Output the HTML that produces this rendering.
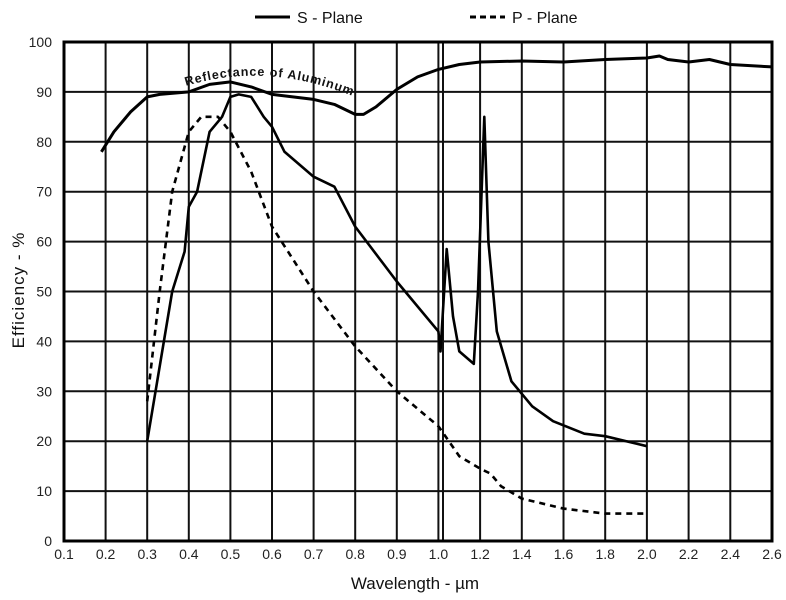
<!DOCTYPE html>
<html><head><style>
body{margin:0;background:#fff;}
svg{display:block;font-family:"Liberation Sans",sans-serif;}
</style></head><body>
<svg id="s" width="786" height="600" xmlns="http://www.w3.org/2000/svg">
<g id="grid" stroke="#111" stroke-width="2" fill="none"></g>
<rect x="64" y="42" width="708" height="499" fill="none" stroke="#000" stroke-width="3"/>
<g id="lab" font-size="14" fill="#222"></g>
<path id="arc" d="M186,86 Q270,60 362,100" fill="none" stroke="none"/>
<text font-size="12.5" font-weight="bold" fill="#111" letter-spacing="0.9"><textPath href="#arc">Reflectance  of  Aluminum</textPath></text>
<g id="curves" fill="none" stroke="#000" stroke-width="2.6" stroke-linejoin="round"></g>
<line x1="255" y1="17" x2="290" y2="17" stroke="#000" stroke-width="3"/>
<text x="297" y="23" font-size="16" fill="#111">S - Plane</text>
<line x1="470" y1="17" x2="505" y2="17" stroke="#000" stroke-width="3" stroke-dasharray="6,4"/>
<text x="512" y="23" font-size="16" fill="#111">P - Plane</text>
<text x="415" y="589" font-size="17" text-anchor="middle" fill="#111">Wavelength - µm</text>
<text transform="translate(24,290) rotate(-90)" font-size="17" text-anchor="middle" fill="#111" letter-spacing="1">Efficiency - %</text>
</svg>
<script>
function X(l){return l<=1.0?64+(l-0.1)*416:438.4+(l-1.0)/0.2*41.7;}
function Y(v){return 541-v*4.99;}
var ns="http://www.w3.org/2000/svg";
function el(p,t,a,txt){var e=document.createElementNS(ns,t);for(var k in a)e.setAttribute(k,a[k]);if(txt)e.textContent=txt;document.getElementById(p).appendChild(e);}
var xs=[0.1,0.2,0.3,0.4,0.5,0.6,0.7,0.8,0.9,1.0,1.2,1.4,1.6,1.8,2.0,2.2,2.4,2.6];
xs.forEach(function(l){var x=X(l);el("grid","line",{x1:x,y1:42,x2:x,y2:541});
 el("lab","text",{x:x,y:559,"text-anchor":"middle"},l.toFixed(1));});
el("grid","line",{x1:443,y1:42,x2:443,y2:541});
for(var v=0;v<=100;v+=10){var y=Y(v);el("grid","line",{x1:64,y1:y,x2:772,y2:y});
 el("lab","text",{x:52,y:y+5,"text-anchor":"end"},String(v));}
function P(a){return a.map(function(p,i){return (i?"L":"M")+X(p[0]).toFixed(1)+","+Y(p[1]).toFixed(1);}).join("");}
var R=[[0.19,78],[0.22,82],[0.26,86],[0.3,89],[0.33,89.5],[0.4,90],[0.45,91.5],[0.5,92],[0.55,91],[0.6,89.5],[0.7,88.5],[0.75,87.5],[0.8,85.5],[0.82,85.5],[0.85,87],[0.9,90.5],[0.95,93],[1.0,94.5],[1.1,95.5],[1.2,96],[1.4,96.2],[1.6,96],[1.8,96.5],[2.0,96.8],[2.06,97.2],[2.1,96.5],[2.2,96],[2.3,96.5],[2.4,95.5],[2.6,95]];
var S=[[0.3,20],[0.33,35],[0.36,50],[0.39,58],[0.4,67],[0.42,70],[0.45,82],[0.48,85],[0.5,89],[0.52,89.5],[0.55,89],[0.58,85],[0.6,83],[0.63,78],[0.7,73],[0.75,71],[0.8,63],[0.9,52],[1.0,42],[1.01,38],[1.04,58.5],[1.07,45],[1.1,38],[1.17,35.5],[1.19,50],[1.22,85],[1.24,60],[1.28,42],[1.35,32],[1.45,27],[1.55,24],[1.7,21.5],[1.8,21],[2.0,19]];
var Pp=[[0.3,28],[0.33,50],[0.36,70],[0.4,82],[0.43,85],[0.47,85],[0.5,82],[0.55,74],[0.6,63],[0.7,50],[0.8,39],[0.9,30],[1.0,23],[1.1,17],[1.2,14.5],[1.25,13.5],[1.3,11],[1.4,8.5],[1.6,6.5],[1.8,5.5],[2.0,5.5]];
el("curves","path",{d:P(R),"stroke-width":3});
el("curves","path",{d:P(S)});
el("curves","path",{d:P(Pp),"stroke-dasharray":"6,5"});
</script>
</body></html>
